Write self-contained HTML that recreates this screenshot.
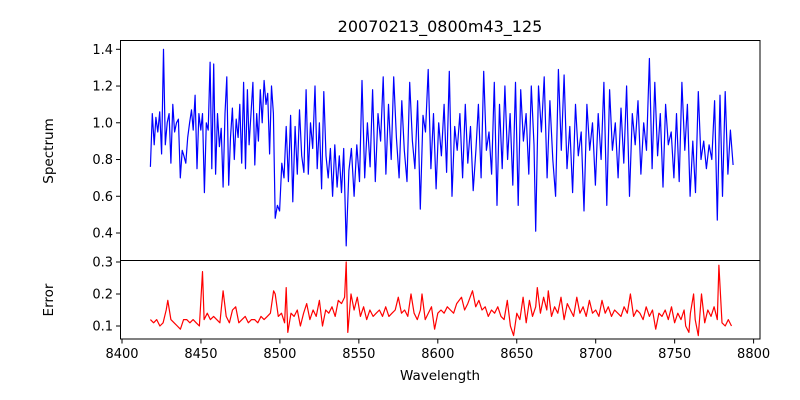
<!DOCTYPE html>
<html><head><meta charset="utf-8"><style>
body{margin:0;background:#fff}
svg{display:block;font-family:"DejaVu Sans","Liberation Sans",sans-serif}
</style></head><body>
<svg id="chart" width="800" height="400" viewBox="0 0 800 400" xmlns="http://www.w3.org/2000/svg">
<rect width="800" height="400" fill="#fff"/>
<text x="440" y="32" font-size="16" text-anchor="middle">20070213_0800m43_125</text>
<text transform="translate(53,151) rotate(-90)" font-size="13.5" text-anchor="middle">Spectrum</text>
<text transform="translate(53,300) rotate(-90)" font-size="13.5" text-anchor="middle">Error</text>
<text x="440" y="380" font-size="13.5" text-anchor="middle">Wavelength</text>
<g id="marks"></g>
<rect x="120.5" y="40.5" width="639.5" height="220" fill="none" stroke="#000" stroke-width="1"/>
<rect x="120.5" y="260.5" width="639.5" height="78.5" fill="none" stroke="#000" stroke-width="1"/>
<g id="axes"></g>
</svg>
<script>
const specWave=[8418,8419.2,8420.4,8421.5,8422.7,8423.9,8425.1,8426.3,8427.4,8428.6,
8429.8,8431,8432.2,8433.3,8434.5,8435.7,8436.9,8438.1,8439.2,8440.4,
8441.6,8442.8,8444,8445.1,8446.3,8447.5,8448.7,8449.9,8451,8452.2,
8453.4,8454.6,8455.8,8456.9,8458.1,8459.3,8460.5,8461.7,8462.8,8464,
8465.2,8466.4,8467.6,8468.7,8469.9,8471.1,8472.3,8473.5,8474.6,8475.8,
8477,8478.2,8479.4,8480.5,8481.7,8482.9,8484.1,8485.3,8486.4,8487.6,
8488.8,8490,8491.2,8492.3,8493.5,8494.7,8495.9,8497,8498.4,8499.8,
8501.2,8502.6,8504,8505.4,8506.8,8508.2,8509.6,8511,8512.4,8513.8,
8515.2,8516.6,8518,8519.4,8520.8,8522.2,8523.6,8525,8526.4,8527.8,
8529.2,8530.6,8532,8533.4,8534.8,8536.2,8537.6,8539,8540.4,8542,
8543.7,8545.3,8547,8548.7,8550.4,8552,8553.7,8555.4,8557.1,8558.7,
8560.4,8562.1,8563.8,8565.4,8567.1,8568.8,8570.5,8572.1,8573.8,8575.5,
8577.2,8578.8,8580.5,8582.2,8583.9,8585.5,8587.2,8588.9,8590.6,8592.2,
8593.9,8595.6,8597.3,8598.9,8600.6,8602.3,8604,8605.6,8607.3,8609,
8610.7,8612.3,8614,8615.7,8617.4,8619,8620.7,8622.4,8624.1,8625.7,
8627.4,8629.1,8630.8,8632.4,8634.1,8635.8,8637.5,8639.1,8640.8,8642.5,
8644.2,8645.8,8647.5,8649.2,8650.9,8652.5,8654.2,8655.9,8657.6,8659.2,
8660.9,8662,8663.8,8665.6,8667.4,8669.2,8671,8672.8,8674.6,8676.4,
8678.2,8680,8681.8,8683.6,8685.4,8687.2,8689,8690.8,8692.6,8694.4,
8696.2,8698,8699.8,8701.6,8703.4,8705.2,8707,8708.8,8710.6,8712.4,
8714.2,8716,8717.8,8719.6,8721.4,8723.2,8725,8726.8,8728.6,8730.4,
8732.2,8734,8735.7,8737.4,8739.2,8740.9,8742.6,8744.3,8746,8747.8,
8749.5,8751.2,8752.9,8754.6,8756.4,8758.1,8759.8,8761.5,8763.2,8765,
8766.7,8768.4,8770.1,8771.8,8773.5,8775.3,8777,8778.7,8780.3,8782,
8783.7,8785.3,8787];
const specFlux=[0.76,1.05,0.88,1.03,0.95,1.06,0.83,1.40,0.88,1.0,
1.05,0.78,1.1,0.95,1.0,1.02,0.7,0.85,0.82,0.78,
0.92,1.0,1.07,0.96,1.15,0.75,1.05,0.96,1.05,0.62,
1.0,0.96,1.33,0.75,1.32,0.72,1.05,0.87,0.97,0.65,
1.05,1.25,0.66,0.92,1.08,0.80,1.02,0.92,1.10,0.78,
1.22,0.75,1.18,0.88,1.05,1.22,0.77,1.05,0.90,1.18,
1.0,1.23,1.10,1.16,0.83,1.20,1.05,0.48,0.55,0.52,
0.78,0.70,0.98,0.68,1.04,0.57,0.98,0.72,1.07,0.82,
0.73,1.18,0.72,1.0,0.86,1.20,0.75,1.0,0.64,1.17,
0.82,0.70,0.86,0.60,0.88,0.65,0.82,0.62,0.86,0.33,
0.74,0.86,0.60,0.88,0.68,1.23,0.70,1.0,0.76,1.18,
0.68,1.05,0.90,1.25,0.72,1.10,0.80,1.25,0.92,0.70,
1.12,0.85,0.68,1.22,0.90,0.75,1.12,0.53,1.04,0.95,
1.29,0.75,1.05,0.64,1.0,0.82,1.10,0.73,1.28,0.60,
0.98,0.85,1.05,0.70,1.10,0.78,0.98,0.63,0.85,1.10,
0.70,1.28,0.85,0.95,0.72,1.22,0.55,1.10,0.75,1.20,
0.80,1.05,0.66,1.22,0.55,1.18,0.90,1.05,0.72,1.20,
0.88,0.41,1.20,0.95,1.25,0.70,1.12,0.80,0.60,1.29,
0.85,1.26,0.75,0.98,0.62,1.10,0.82,0.95,0.52,1.10,
0.85,1.0,0.66,1.05,0.80,1.22,0.55,1.18,0.85,1.0,
0.70,1.08,0.78,1.20,0.60,1.05,0.88,1.12,0.72,1.0,
0.85,1.35,0.75,1.22,0.82,1.05,0.65,1.10,0.88,0.95,
0.70,1.05,0.68,1.22,0.85,1.10,0.60,0.90,0.62,1.17,
0.80,0.90,0.75,0.88,0.80,1.12,0.47,1.15,0.60,1.17,
0.72,0.96,0.77];
const errWave=[8418,8420,8422,8424,8426,8428,8429,8431,8433,8435,8437,8439,8441,8443,8445,8447,8449,8451,8452,8454,8456,8458,8460,8462,8464,8466,8468,8470,8472,8474,8476,8478,8480,8482,8484,8486,8488,8490,8492,8494,8496,8497,8499,8501,8503,8504,8505,8507,8509,8511,8513,8515,8517,8519,8521,8523,8525,8527,8529,8531,8533,8535,8537,8539,8541,8542,8543,8545,8547,8549,8551,8553,8555,8557,8559,8561,8563,8565,8567,8569,8571,8573,8575,8577,8579,8581,8583,8585,8587,8589,8590,8592,8594,8596,8598,8600,8602,8604,8606,8608,8610,8612,8615,8617,8619,8622,8624,8626,8628,8630,8632,8634,8636,8638,8640,8642,8644,8646,8648,8650,8652,8654,8656,8658,8660,8662,8663,8665,8667,8669,8670,8672,8674,8676,8678,8680,8682,8684,8686,8688,8690,8692,8694,8696,8698,8700,8702,8704,8706,8708,8710,8712,8714,8716,8718,8720,8722,8724,8726,8728,8730,8732,8734,8736,8738,8740,8742,8744,8746,8748,8750,8752,8754,8756,8757,8759,8760,8762,8763,8765,8767,8769,8771,8773,8775,8777,8778,8780,8782,8784,8786];
const errVal=[0.12,0.11,0.12,0.10,0.11,0.15,0.18,0.12,0.11,0.10,0.09,0.12,0.12,0.11,0.12,0.11,0.10,0.27,0.12,0.14,0.12,0.13,0.12,0.11,0.21,0.13,0.11,0.15,0.16,0.11,0.12,0.13,0.11,0.12,0.12,0.11,0.13,0.12,0.13,0.14,0.21,0.20,0.13,0.14,0.11,0.22,0.08,0.14,0.13,0.15,0.10,0.14,0.17,0.12,0.15,0.13,0.18,0.10,0.15,0.14,0.16,0.13,0.18,0.17,0.19,0.30,0.08,0.20,0.15,0.19,0.13,0.16,0.12,0.15,0.13,0.14,0.15,0.13,0.16,0.13,0.14,0.15,0.19,0.14,0.15,0.13,0.20,0.14,0.12,0.15,0.20,0.12,0.14,0.16,0.09,0.14,0.15,0.14,0.16,0.15,0.14,0.17,0.19,0.15,0.17,0.21,0.16,0.18,0.15,0.16,0.13,0.15,0.14,0.16,0.13,0.12,0.18,0.10,0.07,0.14,0.12,0.19,0.11,0.18,0.13,0.16,0.22,0.14,0.19,0.15,0.21,0.13,0.16,0.14,0.19,0.12,0.17,0.15,0.13,0.19,0.14,0.16,0.13,0.18,0.14,0.15,0.13,0.18,0.14,0.16,0.13,0.15,0.14,0.13,0.16,0.14,0.20,0.13,0.15,0.14,0.12,0.16,0.13,0.15,0.09,0.14,0.13,0.15,0.12,0.16,0.11,0.14,0.12,0.15,0.10,0.08,0.14,0.20,0.12,0.07,0.20,0.11,0.15,0.13,0.16,0.12,0.29,0.11,0.10,0.12,0.10,0.13];
const xTicks=[8400,8450,8500,8550,8600,8650,8700,8750,8800];
const specTicks=[0.4,0.6,0.8,1.0,1.2,1.4];
const errTicks=[0.1,0.2,0.3];

const NS='http://www.w3.org/2000/svg';
const xs=w=>122+(w-8400)*1.579;
const ys=v=>49.3+(1.4-v)*183.7;
const ye=v=>262+(0.3-v)*320;
const marks=document.getElementById('marks');
const axes=document.getElementById('axes');
function mk(tag,attrs,parent){const e=document.createElementNS(NS,tag);for(const k in attrs)e.setAttribute(k,attrs[k]);parent.appendChild(e);return e;}

const nS=Math.min(specWave.length,specFlux.length);
const sp=mk('polyline',{points:specWave.slice(0,nS).map((w,i)=>xs(w).toFixed(1)+','+ys(specFlux[i]).toFixed(1)).join(' '),fill:'none',stroke:'#0000ff','stroke-width':1.2,'stroke-linejoin':'round'},marks);


const nE=Math.min(errWave.length,errVal.length);
const er=mk('polyline',{points:errWave.slice(0,nE).map((w,i)=>xs(w).toFixed(1)+','+ye(errVal[i]).toFixed(1)).join(' '),fill:'none',stroke:'#ff0000','stroke-width':1.2,'stroke-linejoin':'round'},marks);



xTicks.forEach(t=>{
  const x=xs(t);
  mk('line',{x1:x,x2:x,y1:339,y2:343.5,stroke:'#000'},axes);
  const tx=mk('text',{x:x,y:358,'font-size':13,'text-anchor':'middle'},axes);
  tx.textContent=t;
  
  
});
specTicks.forEach(t=>{
  const y=ys(t);
  mk('line',{x1:116,x2:120.5,y1:y,y2:y,stroke:'#000'},axes);
  const tx=mk('text',{x:113,y:y+4.5,'font-size':13,'text-anchor':'end'},axes);
  tx.textContent=t.toFixed(1);
  
  
});
errTicks.forEach(t=>{
  const y=ye(t);
  mk('line',{x1:116,x2:120.5,y1:y,y2:y,stroke:'#000'},axes);
  const tx=mk('text',{x:113,y:y+4.5,'font-size':13,'text-anchor':'end'},axes);
  tx.textContent=t.toFixed(1);
  
  
});
</script>
</body></html>
